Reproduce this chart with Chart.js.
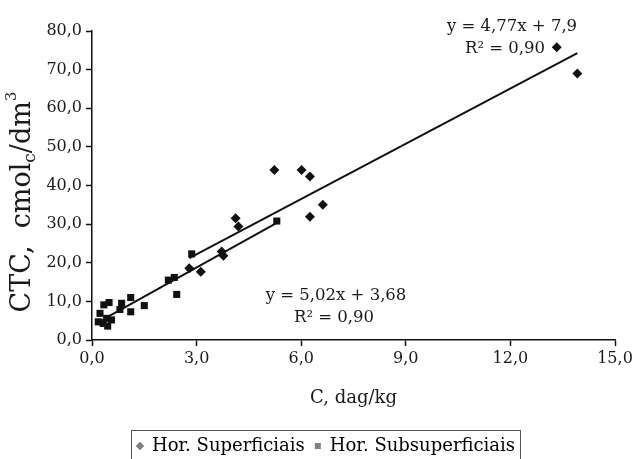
<!DOCTYPE html>
<html lang="pt-BR">

<head>
  <meta charset="UTF-8">
  <title>CTC x C</title>
  <style>
    html, body { margin: 0; padding: 0; background: #fff; }
    #caixa { width: 632px; height: 459px; }
  </style>
</head>

<body>
  <div id="caixa"><canvas id="grafico"></canvas></div>

  <script src="https://cdn.jsdelivr.net/npm/chart.js"></script>
  <script>
    // Hor. Superficiais (losangos)
    const supX = [2.79, 3.12, 3.72, 3.77, 4.12, 4.20, 5.23, 6.01, 6.25, 6.25, 6.62, 13.33, 13.92];
    const supY = [18.6, 17.7, 22.9, 21.8, 31.5, 29.4, 44.0, 44.0, 42.3, 31.9, 35.0, 75.8, 69.0];

    // Hor. Subsuperficiais (quadrados)
    const subX = [0.18, 0.23, 0.32, 0.34, 0.42, 0.45, 0.49, 0.56, 0.80, 0.85, 1.11, 1.11, 1.50, 2.19, 2.36, 2.43, 2.86, 5.30];
    const subY = [4.7, 6.9, 4.3, 9.1, 5.6, 3.6, 9.7, 5.2, 7.9, 9.5, 11.0, 7.3, 8.9, 15.5, 16.2, 11.8, 22.3, 30.8];

    // linhas de tendencia (extremos)
    const supLinhaX = [2.79, 13.92];
    const supLinhaY = [21.2, 74.3];
    const subLinhaX = [0.18, 5.30];
    const subLinhaY = [4.6, 30.3];

    const ticksX = [0, 3, 6, 9, 12, 15];
    const ticksY = [0, 10, 20, 30, 40, 50, 60, 70, 80];

    const equacoes = ['y = 4,77x + 7,9', 'R² = 0,90', 'y = 5,02x + 3,68', 'R² = 0,90'];

    const fonte = '"DejaVu Serif", "Liberation Serif", serif';
    Chart.defaults.font.family = fonte;
    Chart.defaults.color = '#1a1a1a';

    function pontos(xs, ys) {
      return xs.map((x, i) => ({ x: x, y: ys[i] }));
    }

    function virgula(v) {
      return v.toFixed(1).replace('.', ',');
    }

    // titulo do eixo Y com subscrito e sobrescrito
    const tituloY = {
      id: 'tituloY',
      afterDraw(chart) {
        const ctx = chart.ctx;
        const partes = [
          { t: 'CTC,  cmol', s: 27, dy: 0 },
          { t: 'c', s: 17, dy: 8 },
          { t: '/dm', s: 27, dy: 0 },
          { t: '3', s: 15, dy: -11 }
        ];
        let total = 0;
        ctx.save();
        partes.forEach(p => {
          ctx.font = p.s + 'px ' + fonte;
          p.w = ctx.measureText(p.t).width;
          total += p.w;
        });
        ctx.translate(23, 202);
        ctx.rotate(-Math.PI / 2);
        ctx.fillStyle = '#1a1a1a';
        ctx.textBaseline = 'middle';
        let x = -total / 2;
        partes.forEach(p => {
          ctx.font = p.s + 'px ' + fonte;
          ctx.fillText(p.t, x, p.dy);
          x += p.w;
        });
        ctx.restore();
      }
    };

    // equacoes das retas
    const textoEquacoes = {
      id: 'textoEquacoes',
      afterDatasetsDraw(chart) {
        const ctx = chart.ctx;
        const posicoes = [[512, 27], [505, 49], [336, 296], [334, 318]];
        ctx.save();
        ctx.font = '16.5px ' + fonte;
        ctx.fillStyle = '#1a1a1a';
        ctx.textAlign = 'center';
        ctx.textBaseline = 'middle';
        equacoes.forEach((t, i) => ctx.fillText(t, posicoes[i][0], posicoes[i][1]));
        ctx.restore();
      }
    };

    // moldura da legenda
    const molduraLegenda = {
      id: 'molduraLegenda',
      afterDraw(chart) {
        const hb = chart.legend.legendHitBoxes;
        if (!hb || !hb.length) return;
        const ctx = chart.ctx;
        const ultimo = hb[hb.length - 1];
        const esq = hb[0].left - 6;
        const dir = ultimo.left + ultimo.width + 5;
        const topo = hb[0].top - 7;
        ctx.save();
        ctx.strokeStyle = '#555';
        ctx.lineWidth = 1;
        ctx.strokeRect(Math.round(esq) + 0.5, Math.round(topo) + 0.5, Math.round(dir - esq), chart.height - topo + 5);
        ctx.restore();
      }
    };

    const eixo = {
      border: { display: true, color: '#111', width: 1.5 },
      grid: { display: true, drawOnChartArea: false, drawTicks: true, tickLength: 6, tickColor: '#111', tickWidth: 1.5 }
    };

    new Chart(document.getElementById('grafico'), {
      type: 'scatter',
      data: {
        datasets: [
          {
            label: 'Hor. Superficiais',
            data: pontos(supX, supY),
            pointStyle: 'rectRot',
            pointRadius: 5,
            backgroundColor: '#111',
            borderColor: '#111',
            borderWidth: 0
          },
          {
            label: 'Hor. Subsuperficiais',
            data: pontos(subX, subY),
            pointStyle: 'rect',
            pointRadius: 5,
            backgroundColor: '#111',
            borderColor: '#111',
            borderWidth: 0
          },
          {
            label: 'tendencia sup',
            data: pontos(supLinhaX, supLinhaY),
            showLine: true,
            pointRadius: 0,
            borderColor: '#111',
            borderWidth: 2
          },
          {
            label: 'tendencia sub',
            data: pontos(subLinhaX, subLinhaY),
            showLine: true,
            pointRadius: 0,
            borderColor: '#111',
            borderWidth: 2
          }
        ]
      },
      options: {
        responsive: true,
        maintainAspectRatio: false,
        animation: false,
        events: [],
        layout: { padding: { left: 37, right: 17, top: 31, bottom: -6 } },
        scales: {
          x: {
            ...eixo,
            min: 0,
            max: 15,
            afterBuildTicks: s => { s.ticks = ticksX.map(v => ({ value: v })); },
            afterFit: s => { s.height = 87; s.paddingRight = 0; s.paddingLeft = 0; },
            ticks: { padding: 3, font: { size: 16 }, color: '#1a1a1a', callback: v => virgula(v) },
            title: { display: true, text: 'C, dag/kg', font: { size: 18 }, color: '#1a1a1a', padding: { top: 0, bottom: 18 } }
          },
          y: {
            ...eixo,
            min: 0,
            max: 80,
            afterBuildTicks: s => { s.ticks = ticksY.map(v => ({ value: v })); },
            afterFit: s => { s.width = 55; },
            ticks: { padding: 4, font: { size: 16 }, color: '#1a1a1a', callback: v => virgula(v) }
          }
        },
        plugins: {
          tooltip: { enabled: false },
          legend: {
            position: 'bottom',
            labels: {
              usePointStyle: true,
              boxWidth: 6,
              boxHeight: 6,
              padding: 10,
              color: '#1a1a1a',
              font: { size: 18 },
              generateLabels: () => [
                { text: 'Hor. Superficiais', pointStyle: 'rectRot', fillStyle: '#808080', strokeStyle: '#808080', lineWidth: 0, datasetIndex: 0 },
                { text: 'Hor. Subsuperficiais', pointStyle: 'rect', fillStyle: '#808080', strokeStyle: '#808080', lineWidth: 0, datasetIndex: 1 }
              ]
            }
          }
        }
      },
      plugins: [tituloY, textoEquacoes, molduraLegenda]
    });
  </script>
</body>

</html>
